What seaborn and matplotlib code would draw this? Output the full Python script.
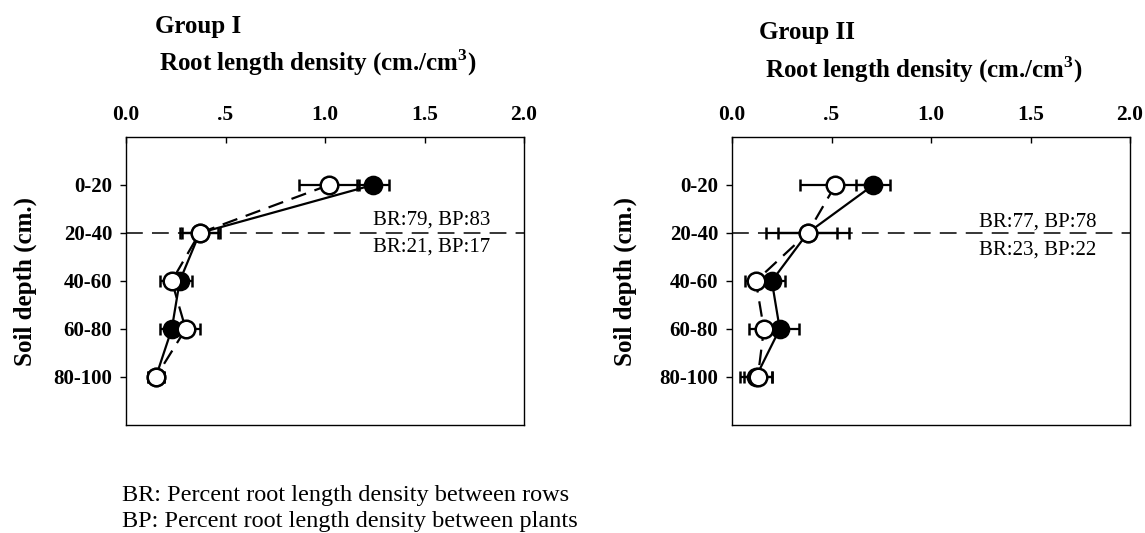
import numpy as np
import pandas as pd
import matplotlib
matplotlib.use("Agg")
import matplotlib.pyplot as plt
import seaborn as sns

# ---- data ----
depth_labels = ["0-20", "20-40", "40-60", "60-80", "80-100"]
x_ticks = [0.0, 0.5, 1.0, 1.5, 2.0]
x_ticklabels = ["0.0", ".5", "1.0", "1.5", "2.0"]

g1_filled = [1.24, 0.37, 0.27, 0.23, 0.15]
g1_filled_err = [0.08, 0.10, 0.06, 0.06, 0.04]
g1_open = [1.02, 0.37, 0.23, 0.30, 0.15]
g1_open_err = [0.15, 0.09, 0.06, 0.07, 0.04]

g2_filled = [0.71, 0.38, 0.20, 0.24, 0.12]
g2_filled_err = [0.085, 0.15, 0.065, 0.095, 0.08]
g2_open = [0.52, 0.38, 0.12, 0.16, 0.13]
g2_open_err = [0.18, 0.21, 0.055, 0.075, 0.07]

g1_upper = "BR:79, BP:83"
g1_lower = "BR:21, BP:17"
g2_upper = "BR:77, BP:78"
g2_lower = "BR:23, BP:22"

# ---- style ----
sns.set_theme(style="white")
plt.rcParams["font.family"] = ["Liberation Serif", "DejaVu Serif"]
plt.rcParams["mathtext.fontset"] = "custom"
plt.rcParams["mathtext.rm"] = "Liberation Serif"
plt.rcParams["mathtext.bf"] = "Liberation Serif:bold"
plt.rcParams["text.color"] = "black"
plt.rcParams["axes.labelcolor"] = "black"
plt.rcParams["xtick.color"] = "black"
plt.rcParams["ytick.color"] = "black"

fig = plt.figure(figsize=(11.45, 5.33), dpi=100)
W, H = 1145, 533

def px_axes(x0, x1, y0, y1):
    return fig.add_axes([x0 / W, 1 - y1 / H, (x1 - x0) / W, (y1 - y0) / H])

ax1 = px_axes(126, 524, 137, 425)
ax2 = px_axes(732, 1130, 137, 425)

def draw(ax, filled, ferr, opn, oerr, up, low, up_xy, low_xy):
    pos = np.arange(1, len(depth_labels) + 1)
    df_f = pd.DataFrame({"rld": filled, "pos": pos})
    df_o = pd.DataFrame({"rld": opn, "pos": pos})
    # reference line between 20-40
    ax.axhline(2, color="black", lw=1.1, dashes=(11, 6), zorder=1)
    # filled series
    ax.errorbar(filled, pos, xerr=ferr, fmt="none", ecolor="black",
                elinewidth=1.6, capsize=4, capthick=1.8, zorder=2)
    sns.lineplot(data=df_f, x="rld", y="pos", orient="y", sort=False,
                 color="black", lw=1.6, ax=ax, zorder=3)
    ax.errorbar(opn, pos, xerr=oerr, fmt="none", ecolor="black",
                elinewidth=1.6, capsize=4, capthick=1.8, zorder=2)
    sns.lineplot(data=df_o, x="rld", y="pos", orient="y", sort=False,
                 color="black", lw=1.6, dashes=False, ax=ax, zorder=3,
                 linestyle=(0, (7, 4)))
    sns.scatterplot(data=df_f, x="rld", y="pos", ax=ax, s=160,
                    color="black", edgecolor="black", linewidth=1.5, zorder=4)
    sns.scatterplot(data=df_o, x="rld", y="pos", ax=ax, s=160,
                    color="white", edgecolor="black", linewidth=1.8, zorder=5)
    ax.set_xlim(0, 2.0)
    ax.set_ylim(6, 0)
    ax.set_yticks(pos)
    ax.set_yticklabels(depth_labels, fontweight="bold", fontsize=15,
                       color="black")
    ax.set_xticks(x_ticks)
    ax.set_xticklabels(x_ticklabels, fontweight="bold", fontsize=15.5,
                       color="black")
    ax.xaxis.tick_top()
    ax.tick_params(axis="x", direction="in", length=4, width=1, pad=9,
                   top=True, bottom=False, color="black", labelcolor="black")
    ax.tick_params(axis="y", direction="out", length=4, width=1, pad=6,
                   left=True, color="black", labelcolor="black")
    ax.set_xlabel("")
    ax.set_ylabel("")
    for sp in ax.spines.values():
        sp.set_visible(True)
        sp.set_color("black")
        sp.set_linewidth(1.0)
    ax.text(*up_xy, up, transform=ax.transData, fontsize=15,
            ha="left", va="bottom", color="black")
    ax.text(*low_xy, low, transform=ax.transData, fontsize=15,
            ha="left", va="top", color="black")

draw(ax1, g1_filled, g1_filled_err, g1_open, g1_open_err,
     g1_upper, g1_lower, (1.24, 1.93), (1.24, 2.1))
draw(ax2, g2_filled, g2_filled_err, g2_open, g2_open_err,
     g2_upper, g2_lower, (1.24, 1.98), (1.24, 2.15))

# titles
fig.text(155 / W, 1 - 27 / H, "Group I", fontsize=18, fontweight="bold",
         ha="left", va="center", color="black")
fig.text(159 / W, 1 - 63 / H, r"Root length density (cm./cm$^{\mathbf{3}}$)",
         fontsize=18, fontweight="bold", ha="left", va="center", color="black")
fig.text(759 / W, 1 - 33 / H, "Group II", fontsize=18, fontweight="bold",
         ha="left", va="center", color="black")
fig.text(765 / W, 1 - 70 / H, r"Root length density (cm./cm$^{\mathbf{3}}$)",
         fontsize=18, fontweight="bold", ha="left", va="center", color="black")

# y labels
fig.text(25 / W, 1 - 282 / H, "Soil depth (cm.)", rotation=90, fontsize=18,
         fontweight="bold", ha="center", va="center", color="black")
fig.text(625 / W, 1 - 282 / H, "Soil depth (cm.)", rotation=90, fontsize=18,
         fontweight="bold", ha="center", va="center", color="black")

# footnote
fig.text(122 / W, 1 - 496 / H, "BR: Percent root length density between rows",
         fontsize=17.5, ha="left", va="center", color="black")
fig.text(122 / W, 1 - 521 / H, "BP: Percent root length density between plants",
         fontsize=17.5, ha="left", va="center", color="black")

fig.savefig("out.png", dpi=100)
